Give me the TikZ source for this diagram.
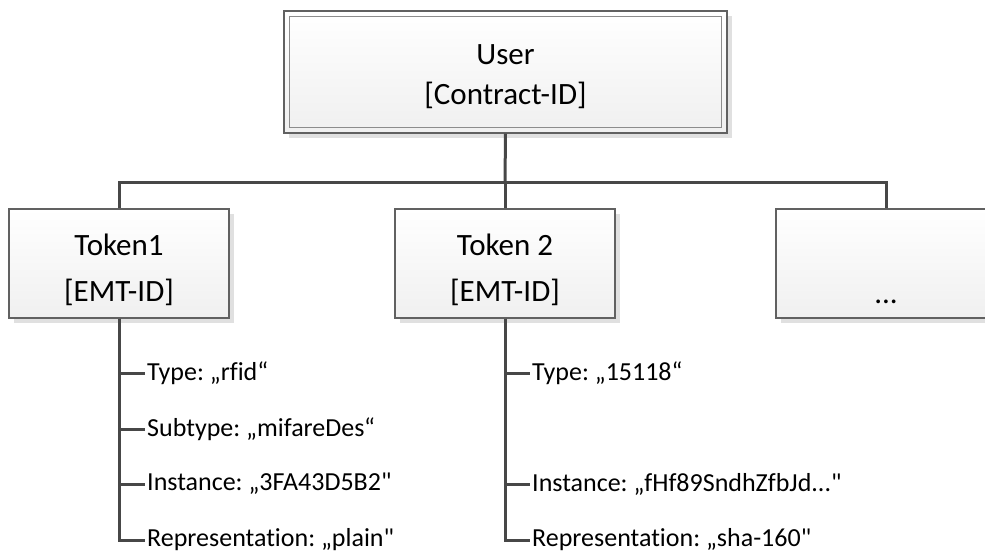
\documentclass[tikz,border=0pt]{standalone}
\usepackage{fontspec}
\setmainfont{Carlito}[Ligatures={CommonOff,TeXOff}]
\usetikzlibrary{shadows}
\newcommand\up[1]{\rule{0pt}{#1}}
\begin{document}
\frenchspacing
\begin{tikzpicture}[x=1pt,y=-1pt,
  box/.style={draw=black!62, line width=1.2pt, top color=white, bottom color=black!6,
    drop shadow={shadow xshift=5pt, shadow yshift=-5pt, fill=black!12, opacity=1},
    minimum width=220pt, minimum height=109pt, align=center,
    font=\fontsize{31}{46}\selectfont, inner sep=0pt},
  conn/.style={draw=black!72, line width=3pt},
  leaf/.style={anchor=west, font=\fontsize{26}{30}\selectfont, inner sep=2pt},
]
\useasboundingbox (0,0) rectangle (985,551);
% user box
\node[box, minimum width=443pt, minimum height=122pt, font=\fontsize{31}{40}\selectfont] (user) at (505.5,72) {\up{29pt}User\\{[}Contract-ID{]}};
\draw[draw=black!45, line width=1pt] ([xshift=6pt,yshift=-6pt]user.north west) rectangle ([xshift=-6pt,yshift=6pt]user.south east);
% tokens
\node[box] (t1) at (119,263.5) {\up{34pt}Token1\\{[}EMT-ID{]}};
\node[box] (t2) at (505,263.5) {\up{34pt}Token 2\\{[}EMT-ID{]}};
\node[box] (t3) at (886,263.5) {\up{34pt}\\...};
% bus
\coordinate (bus) at (505,182);
\draw[conn] (user.south) -- (bus);
\draw[conn] (t1.north) |- (bus) -| (t3.north);
\draw[conn] (bus) -- (t2.north);
% leaves token1
\node[leaf] (a1) at (145,373) {Type: „rfid“};
\node[leaf] (a2) at (145,429) {Subtype: „mifareDes“};
\node[leaf] (a3) at (145,484) {Instance: „3FA43D5B2"};
\node[leaf] (a4) at (145,540) {Representation: „plain"};
\foreach \n in {a1,a2,a3,a4} \draw[conn] (t1.south) |- (\n.west);
% leaves token2
\node[leaf] (b1) at (530,373) {Type: „15118“};
\node[leaf] (b3) at (530,484) {Instance: „fHf89SndhZfbJd..."};
\node[leaf] (b4) at (530,540) {Representation: „sha-160"};
\foreach \n in {b1,b3,b4} \draw[conn] (t2.south) |- (\n.west);
\end{tikzpicture}
\end{document}
